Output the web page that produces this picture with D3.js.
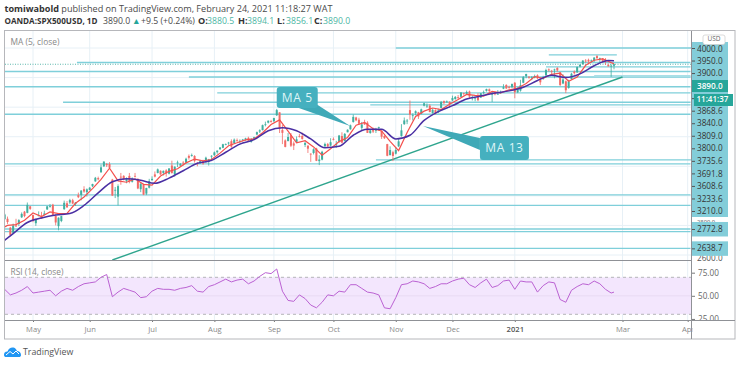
<!DOCTYPE html>
<html>
<head>
<meta charset="utf-8">
<script src="https://cdnjs.cloudflare.com/ajax/libs/d3/7.8.5/d3.min.js"></script>
<style>
  html, body { margin: 0; padding: 0; background: #fff; }
  svg { display: block; font-family: "Open Sans", sans-serif; }
</style>
</head>
<body>
<div id="chart"></div>
<script>
// daily bars, april 2020 to 24 feb 2021
const opens = [
  2790,2795,2842,2845,2785,2750,2799,2810,2855,2893,2885,2929,
  2870,2815,2868,2862,2872,2908,2930,2940,2865,2795,2830,2910,2950,2955,2970,2945,3005,3005,3045,3025,
  3040,3065,3098,3120,3160,3200,3215,3215,3110,3035,2995,3130,3135,3100,3135,3095,3135,3115,3045,3075,3015,3055,
  3105,3145,3155,3170,3155,3172,3150,3205,3145,3225,3205,3225,3225,3270,3270,3270,3220,3220,3235,3228,3230,3270,
  3275,3295,3315,3325,3350,3355,3370,3355,3378,3368,3380,3380,3392,3365,3385,3415,3435,3445,3480,3495,3505,
  3505,3545,3565,3445,3375,3370,3410,3355,3365,3405,3405,3345,3340,3285,3290,3320,3235,3245,3335,3350,3340,
  3385,3345,3365,3405,3370,3430,3450,3500,3530,3515,3460,3495,3495,3425,3445,3440,3465,3440,3405,3350,3275,3295,
  3285,3335,3405,3485,3505,3580,3545,3560,3565,3555,3610,3610,3610,3560,3580,3565,3595,3640,3635,3635,
  3645,3655,3668,3670,3695,3690,3705,3665,3660,3675,3665,3695,3710,3720,3685,3700,3690,3695,3725,3750,3735,3735,
  3765,3700,3712,3765,3810,3805,3800,3800,3815,3790,3790,3815,3855,3845,3850,3865,3835,3760,3775,
  3730,3790,3840,3835,3875,3890,3915,3920,3915,3915,3945,3925,3930,3920,3885,3875,3880
];
const highs = [
  2802,2815,2880,2860,2790,2812,2845,2842,2888,2898,2955,2932,
  2872,2845,2895,2892,2900,2932,2945,2946,2875,2855,2865,2968,2965,2980,2980,2958,3022,3038,3065,3050,
  3060,3082,3128,3130,3212,3233,3222,3228,3115,3060,3078,3155,3140,3125,3155,3125,3155,3118,3085,3082,3055,3115,
  3132,3165,3185,3172,3172,3180,3188,3238,3200,3238,3222,3235,3258,3280,3286,3275,3228,3242,3244,3265,3250,3275,
  3300,3307,3330,3352,3354,3365,3382,3388,3388,3382,3385,3393,3400,3390,3400,3435,3450,3482,3502,3510,3514,
  3528,3588,3565,3480,3382,3425,3425,3368,3402,3420,3428,3368,3340,3288,3322,3325,3275,3305,3360,3358,3390,
  3395,3372,3412,3430,3425,3450,3482,3550,3535,3528,3500,3515,3505,3448,3462,3460,3468,3442,3410,3352,3335,3305,
  3330,3388,3485,3530,3520,3645,3558,3578,3568,3590,3630,3625,3620,3590,3585,3590,3642,3645,3645,3640,
  3678,3675,3682,3702,3698,3712,3712,3680,3665,3695,3695,3712,3725,3726,3702,3705,3715,3712,3755,3755,3745,3760,
  3770,3735,3785,3810,3826,3810,3810,3820,3822,3795,3812,3860,3862,3852,3860,3870,3838,3822,3780,
  3785,3832,3848,3875,3888,3918,3925,3928,3922,3938,3952,3935,3932,3932,3895,3890,3894
];
const lows = [
  2760,2772,2840,2810,2727,2745,2790,2795,2850,2855,2882,2905,
  2822,2797,2862,2845,2868,2905,2920,2868,2800,2767,2822,2905,2920,2945,2945,2932,2985,2970,3020,2995,
  3038,3060,3095,3105,3155,3195,3195,3185,3000,2985,2935,3075,3105,3085,3085,3090,3125,3045,3025,3005,3005,3050,
  3105,3125,3152,3142,3138,3130,3145,3150,3130,3195,3200,3205,3220,3245,3265,3225,3200,3218,3210,3225,3205,3235,
  3270,3285,3312,3322,3342,3345,3325,3352,3365,3355,3368,3372,3368,3360,3380,3410,3425,3442,3470,3490,3495,
  3500,3540,3425,3350,3328,3370,3330,3310,3362,3395,3380,3330,3290,3230,3280,3235,3208,3240,3332,3328,3335,
  3375,3325,3360,3355,3368,3430,3448,3495,3505,3480,3440,3480,3425,3420,3425,3425,3440,3385,3385,3268,3275,3235,
  3280,3330,3400,3480,3485,3515,3510,3545,3520,3552,3605,3595,3565,3555,3550,3560,3592,3618,3630,3595,
  3642,3650,3655,3668,3680,3688,3660,3645,3640,3640,3662,3688,3705,3700,3635,3680,3685,3690,3722,3722,3725,3730,
  3660,3695,3705,3762,3795,3792,3782,3795,3790,3750,3785,3812,3840,3820,3795,3840,3742,3755,3695,
  3725,3785,3820,3832,3868,3888,3900,3900,3902,3905,3925,3905,3900,3885,3875,3805,3856
];
const closes = [
  2783,2799,2874,2823,2736,2799,2797,2836,2878,2863,2939,2912,
  2830,2842,2868,2848,2881,2929,2930,2870,2820,2852,2863,2953,2922,2971,2948,2955,2991,3036,3029,3044,
  3055,3080,3122,3112,3193,3232,3207,3190,3002,3041,3066,3124,3113,3115,3097,3117,3131,3050,3083,3009,3053,3100,
  3115,3130,3179,3145,3169,3152,3185,3155,3197,3226,3215,3224,3251,3257,3276,3235,3215,3239,3218,3258,3246,3271,
  3294,3306,3327,3349,3351,3360,3333,3380,3373,3372,3381,3389,3374,3385,3397,3431,3443,3478,3484,3508,3500,
  3526,3580,3455,3426,3331,3398,3339,3340,3383,3401,3385,3357,3319,3281,3315,3237,3246,3298,3351,3335,3363,
  3380,3348,3408,3360,3419,3447,3477,3534,3511,3488,3483,3483,3426,3443,3435,3453,3465,3400,3390,3271,3310,3270,
  3310,3369,3443,3510,3509,3550,3545,3572,3537,3585,3626,3610,3567,3582,3557,3577,3635,3629,3638,3621,
  3662,3669,3666,3699,3692,3702,3672,3668,3663,3647,3694,3701,3722,3709,3694,3687,3690,3703,3735,3727,3732,3756,
  3700,3726,3748,3803,3824,3799,3801,3809,3795,3768,3798,3851,3853,3841,3855,3849,3750,3787,3714,
  3774,3826,3830,3871,3887,3915,3911,3909,3916,3935,3932,3931,3913,3906,3876,3881,3890
];

const ma5 = [
  2770,2800,2806,2835,2884,2860,2891,2880,2882,2950,2992,3049,3112,3187,3101,3092,3115,3078,3072,3134,
  3166,3183,3223,3249,3237,3246,3289,3339,3359,3379,3385,3427,3482,3514,3438,3358,3373,3331,3275,3319,
  3367,3395,3478,3497,3454,3439,3369,3306,3428,3537,3573,3594,3584,3620,3651,3686,3679,3675,3706,3697,
  3717,3728,3760,3807,3794,3822,3830,3775,3803,3883,3917,3927,3901,3893
];
const ma13 = [
  2670,2745,2820,2850,2870,2880,2935,3020,3095,3115,3105,3085,3120,3170,3220,3240,3295,3350,3380,3440,
  3461,3440,3385,3325,3335,3410,3450,3450,3385,3410,3510,3570,3610,3655,3675,3695,3710,3735,3780,3815,
  3800,3825,3880,3915,3914
];
const rsi = [
  58,57,51,53,56,60,53,54,55,56,50,55,58,56,60,63,64,65,70,73,
  49,54,58,56,54,48,49,55,58,57,57,56,58,59,61,55,54,60,62,65,
  68,65,67,68,63,66,71,75,74,79,55,45,44,51,47,40,37,43,51,50,
  55,54,62,62,58,54,53,51,37,36,48,62,63,66,65,63,58,60,63,63,
  66,68,69,62,59,64,68,59,61,66,67,57,66,65,65,54,61,65,64,46,
  43,56,60,63,62,66,63,57,53,54
];

// horizontal levels and the bar they start on
const levelPrices = [4000,3953,3902,3872,3841,3804,3738,3696,3633,3615,3552,3243,3216,3006,2936,2776,2758,2645];
const levelStarts = [140,194,27.5,193,0,67,0,77,22.6,131,0,133,0,0,0,0,0,0];
const levelEnds =   [245,218,244,244,244,244,244,244,244,244,244,245,244,244,244,244,244,244];

const trendBars = [40,220];
const trendPrices = [2566,3804];

const lastPrice = 3890;

const monthLabels = ["May","Jun","Jul","Aug","Sep","Oct","Nov","Dec","2021","Mar","Apr"];
const monthBars = [12,32,54,76,97,118,140,160,182,220,243];

const priceLabels = ["4000.0","3950.0","3900.0","3890.0","11:41:37","3868.6","3840.0","3809.0","3800.0","3735.6","3691.8","3608.6","3233.6","3210.0"];
const lowerLabels = ["2772.8","2638.7"];
const lowerPrices = [2776,2645];
const hiddenLabels = ["2800.0","2600.0"];
const hiddenPrices = [2833,2580];
const hiddenSizes = [5.8,8.2];
const gridPrices = [4000,3800,3600,3400,3200,3000,2800,2600];
const rsiTicks = [75,50,25];

const calloutTexts = ["MA 5","MA 13"];
const calloutBars = [98,169.7];
const calloutPrices = [3736,3405];
const calloutTipBars = [123.9,149.6];
const calloutTipPrices = [3472,3472];

const width = 740, height = 365;
const grey = "#8f9196";
const axisFont = 8.2;

const svg = d3.select("#chart").append("svg").attr("width", width).attr("height", height);

const x = d3.scaleLinear().domain([0, closes.length - 1]).range([-1, 614]);
const y = d3.scaleLinear().domain([4000, 2600]).range([48, 255]);
const yLabels = d3.scalePoint().domain(priceLabels).range([48, 211]);
const yRsi = d3.scaleLinear().domain([70, 30]).range([277.3, 314.3]);

const lastBar = closes.length - 1;

// clips
const defs = svg.append("defs");
defs.append("clipPath").attr("id", "main").append("rect").attr("x", 5).attr("y", 31).attr("width", 686).attr("height", 229);
defs.append("clipPath").attr("id", "sub").append("rect").attr("x", 5).attr("y", 261).attr("width", 686).attr("height", 59);

// header
const head = svg.append("g").attr("font-size", 9.1).attr("fill", "#4a4a4a");
const line1 = head.append("text").attr("x", 4.5).attr("y", 11.5);
line1.append("tspan").attr("font-weight", 700).attr("fill", "#333").text("tomiwabold");
line1.append("tspan").text(" published on TradingView.com, February 24, 2021 11:18:27 WAT");
const line2 = head.append("text").attr("y", 23.5);
line2.append("tspan").attr("x", 4.5).attr("font-size", 8.1).attr("font-weight", 700).attr("fill", "#333").text("OANDA:SPX500USD, 1D");
line2.append("tspan").attr("x", 103).attr("font-size", 8.7).text("3890.0");
line2.append("tspan").attr("x", 132).attr("font-size", 8.7).attr("fill", "#26a69a").text("▲");
line2.append("tspan").attr("x", 141).attr("font-size", 8.7).text("+9.5 (+0.24%)");
const ohlcNames = ["O:","H:","L:","C:"];
const ohlcValues = ["3880.5","3894.1","3856.1","3890.0"];
const ohlcX = [198,238,277,314];
ohlcNames.forEach((n, i) => {
  line2.append("tspan").attr("x", ohlcX[i]).attr("font-weight", 700).attr("fill", "#333").text(n);
  line2.append("tspan").attr("x", ohlcX[i] + 9).attr("font-size", 8.7).attr("fill", "#4db6a4").text(ohlcValues[i]);
});

// grid
const grid = svg.append("g").attr("stroke", "#e7f0f6").attr("stroke-width", 1);
grid.selectAll("line.v").data(monthBars).enter().append("line").attr("class", "v")
  .attr("x1", d => x(d)).attr("x2", d => x(d)).attr("y1", 30).attr("y2", 320);
grid.selectAll("line.h").data(gridPrices).enter().append("line").attr("class", "h")
  .attr("x1", 5).attr("x2", 691).attr("y1", d => y(d)).attr("y2", d => y(d));

// levels
const main = svg.append("g").attr("clip-path", "url(#main)");
main.selectAll("line.level").data(levelPrices).enter().append("line").attr("class", "level")
  .attr("x1", (d, i) => x(levelStarts[i])).attr("x2", (d, i) => x(levelEnds[i]))
  .attr("y1", d => y(d)).attr("y2", d => y(d))
  .attr("stroke", "#7fcfda").attr("stroke-width", 1.3);
main.append("line").attr("x1", x(210)).attr("x2", x(244)).attr("y1", y(3811)).attr("y2", y(3811))
  .attr("stroke", "#a9dfe6").attr("stroke-width", 2);
main.append("line").attr("x1", 5).attr("x2", 691).attr("y1", y(lastPrice)).attr("y2", y(lastPrice))
  .attr("stroke", "#5fb8ae").attr("stroke-width", 1).attr("stroke-dasharray", "1,1.5");

// trend line
main.append("line")
  .attr("x1", x(trendBars[0])).attr("y1", y(trendPrices[0]))
  .attr("x2", x(trendBars[1])).attr("y2", y(trendPrices[1]))
  .attr("stroke", "#2fa58e").attr("stroke-width", 1.4);

// candles
const candles = main.selectAll("g.candle").data(closes).enter().append("g").attr("class", "candle");
const candleColor = (d, i) => d >= opens[i] ? "#3fae9f" : "#f26a66";
candles.append("line")
  .attr("x1", (d, i) => x(i)).attr("x2", (d, i) => x(i))
  .attr("y1", (d, i) => y(highs[i])).attr("y2", (d, i) => y(lows[i]))
  .attr("stroke", candleColor).attr("stroke-width", 0.8);
candles.append("rect")
  .attr("x", (d, i) => x(i) - 1).attr("width", 2)
  .attr("y", (d, i) => y(Math.max(d, opens[i])))
  .attr("height", (d, i) => Math.max(0.8, Math.abs(y(d) - y(opens[i]))))
  .attr("fill", candleColor);

// moving averages
const maLine = step => d3.line().x((d, i) => x(Math.min(i * step, lastBar))).y(d => y(d));
main.append("path").attr("d", maLine(3)(ma5)).attr("fill", "none")
  .attr("stroke", "#f4504d").attr("stroke-width", 1.2);
main.append("path").attr("d", maLine(5).curve(d3.curveMonotoneX)(ma13)).attr("fill", "none")
  .attr("stroke", "#4a2fa3").attr("stroke-width", 1.5);

// callouts
const boxW = [41, 49], boxH = [21, 24];
calloutTexts.forEach((t, i) => {
  const bx = x(calloutBars[i]), by = y(calloutPrices[i]);
  const tx = x(calloutTipBars[i]), ty = y(calloutTipPrices[i]);
  const base = i === 0
    ? [[bx + 22, by + boxH[i]], [bx + boxW[i], by + boxH[i] - 3]]
    : [[bx, by + 2], [bx, by + 14]];
  const g = svg.append("g");
  g.append("path").attr("d", d3.line()([[tx, ty], base[0], base[1]]) + "Z").attr("fill", "#3fa9b7");
  g.append("rect").attr("x", bx).attr("y", by).attr("width", boxW[i]).attr("height", boxH[i]).attr("rx", 3)
    .attr("fill", "#45b0bf");
  g.append("text").attr("x", bx + boxW[i] / 2).attr("y", by + boxH[i] / 2 + 4.5)
    .attr("text-anchor", "middle").attr("font-size", 12).attr("letter-spacing", 0.6)
    .attr("fill", "#dff5f7").text(t);
});

// rsi pane
const sub = svg.append("g").attr("clip-path", "url(#sub)");
sub.append("rect").attr("x", 5).attr("width", 686).attr("y", yRsi(70)).attr("height", yRsi(30) - yRsi(70)).attr("fill", "#f3e6fd");
sub.selectAll("line.band").data([70, 30]).enter().append("line").attr("class", "band")
  .attr("x1", 5).attr("x2", 691).attr("y1", d => yRsi(d)).attr("y2", d => yRsi(d))
  .attr("stroke", "#b4b4b8").attr("stroke-dasharray", "3,3");
sub.append("line").attr("x1", 5).attr("x2", 691).attr("y1", yRsi(50)).attr("y2", yRsi(50)).attr("stroke", "#e8daf3");
sub.append("path").attr("fill", "none").attr("stroke", "#bb62d3").attr("stroke-width", 1)
  .attr("d", d3.line().x((d, i) => x(Math.min(i * 2, lastBar))).y(d => yRsi(d))(rsi));

// price axis boxes
const axisBg = svg.append("g").attr("fill", "#83cdd9");
const hiddenAxis = svg.append("g").attr("fill", "#555");
hiddenAxis.selectAll("text").data(hiddenLabels).enter().append("text")
  .attr("x", 697).attr("y", (d, i) => y(hiddenPrices[i]) + 3)
  .attr("font-size", (d, i) => hiddenSizes[i]).text(d => d);
axisBg.raise();
axisBg.append("rect").attr("x", 691).attr("y", 42).attr("width", 37).attr("height", 175);
axisBg.selectAll("rect.low").data(lowerPrices).enter().append("rect").attr("class", "low")
  .attr("x", 691).attr("y", d => y(d) - 7).attr("width", 37).attr("height", 14.5);

// the last price and clock get their own tags further down
const priceAxis = svg.append("g").attr("transform", "translate(692,0)")
  .call(d3.axisRight(yLabels).tickSize(3).tickPadding(2)
    .tickFormat(d => (d === "3890.0" || d === "11:41:37") ? "" : d));
priceAxis.select(".domain").remove();
priceAxis.selectAll("text").attr("font-family", '"Open Sans", sans-serif').attr("font-size", axisFont).attr("fill", "#333");
priceAxis.selectAll("line").attr("stroke", "#555");
priceAxis.selectAll("text").filter(d => d === "4000.0").attr("dy", "0.48em");

const lowAxis = svg.append("g").attr("transform", "translate(692,0)")
  .call(d3.axisRight(y).tickValues(lowerPrices).tickFormat((d, i) => lowerLabels[i]).tickSize(3).tickPadding(2));
lowAxis.select(".domain").remove();
lowAxis.selectAll("text").attr("font-family", '"Open Sans", sans-serif').attr("font-size", axisFont).attr("fill", "#333");
lowAxis.selectAll("line").attr("stroke", "#555");

// last price and clock tags
svg.append("rect").attr("x", 691).attr("y", 80).attr("width", 37).attr("height", 12).attr("fill", "#26a69a");
svg.append("text").attr("x", 697).attr("y", yLabels("3890.0") + 3).attr("font-size", axisFont).attr("font-weight", 600)
  .attr("fill", "#fff").text("3890.0");
svg.append("rect").attr("x", 694).attr("y", 94).attr("width", 39).attr("height", 12).attr("fill", "#26a69a");
svg.append("text").attr("x", 696.5).attr("y", yLabels("11:41:37") + 3.5).attr("font-size", 8).attr("font-weight", 600)
  .attr("fill", "#fff").text("11:41:37");

// usd tag
svg.append("rect").attr("x", 703).attr("y", 35).attr("width", 22).attr("height", 9.5).attr("rx", 2)
  .attr("fill", "#fff").attr("stroke", "#ccc").attr("stroke-width", 0.7);
svg.append("text").attr("x", 714).attr("y", 41.2).attr("text-anchor", "middle").attr("font-size", 6.5).attr("fill", "#666").text("USD");

// rsi axis
const rsiAxis = svg.append("g").attr("transform", "translate(692,0)")
  .call(d3.axisRight(yRsi).tickValues(rsiTicks).tickFormat(d3.format(".2f")).tickSize(3).tickPadding(3));
rsiAxis.select(".domain").remove();
rsiAxis.selectAll("text").attr("font-family", '"Open Sans", sans-serif').attr("font-size", axisFont).attr("fill", "#666");
rsiAxis.selectAll("line").attr("stroke", "#777");

// time axis
const timeAxis = svg.append("g").attr("transform", "translate(0,320)")
  .call(d3.axisBottom(x).tickValues(monthBars).tickFormat((d, i) => monthLabels[i]).tickSize(2).tickPadding(5));
timeAxis.select(".domain").remove();
timeAxis.selectAll("text").attr("font-family", '"Open Sans", sans-serif').attr("font-size", 7.6)
  .attr("fill", d => d === 182 ? "#555" : "#888").attr("font-weight", d => d === 182 ? 600 : 400);
timeAxis.selectAll("line").attr("stroke", "#777");
svg.append("rect").attr("x", 692.5).attr("y", 321).attr("width", 42).attr("height", 18).attr("fill", "#fff");

// frame
const frame = svg.append("g").attr("stroke", grey).attr("fill", "none");
frame.append("rect").attr("x", 4.5).attr("y", 30.5).attr("width", 730.5).attr("height", 308.5).attr("stroke", "#b6b7bb");
frame.append("line").attr("x1", 5).attr("x2", 692).attr("y1", 260.5).attr("y2", 260.5);
frame.append("line").attr("x1", 5).attr("x2", 735).attr("y1", 320.5).attr("y2", 320.5);
frame.append("line").attr("x1", 691.5).attr("x2", 691.5).attr("y1", 31).attr("y2", 339);

// pane titles
svg.append("text").attr("x", 10.5).attr("y", 45).attr("font-size", 8.4).attr("fill", "#888").text("MA (5, close)");
svg.append("text").attr("x", 10.5).attr("y", 275).attr("font-size", 8.4).attr("fill", "#888").text("RSI (14, close)");

// logo
const logo = svg.append("g").attr("transform", "translate(4,347)");
logo.append("path").attr("d", "M0,8 C0,5 2,4.5 3.5,4.5 C4.5,1.5 7,0 9.5,0.5 C11.5,1 12.5,2.5 13,4 C15,4 17,5.5 17,8 C17,9.5 16,10 15,10 L2,10 C1,10 0,9.5 0,8 Z")
  .attr("fill", "#2196f3");
logo.append("path").attr("d", "M2,8 L6,4.5 L9,7 L12,4 L15,7").attr("fill", "none").attr("stroke", "#fff").attr("stroke-width", 1);
svg.append("text").attr("x", 23).attr("y", 355).attr("font-size", 8.8).attr("fill", "#555").text("TradingView");
</script>
</body>
</html>
